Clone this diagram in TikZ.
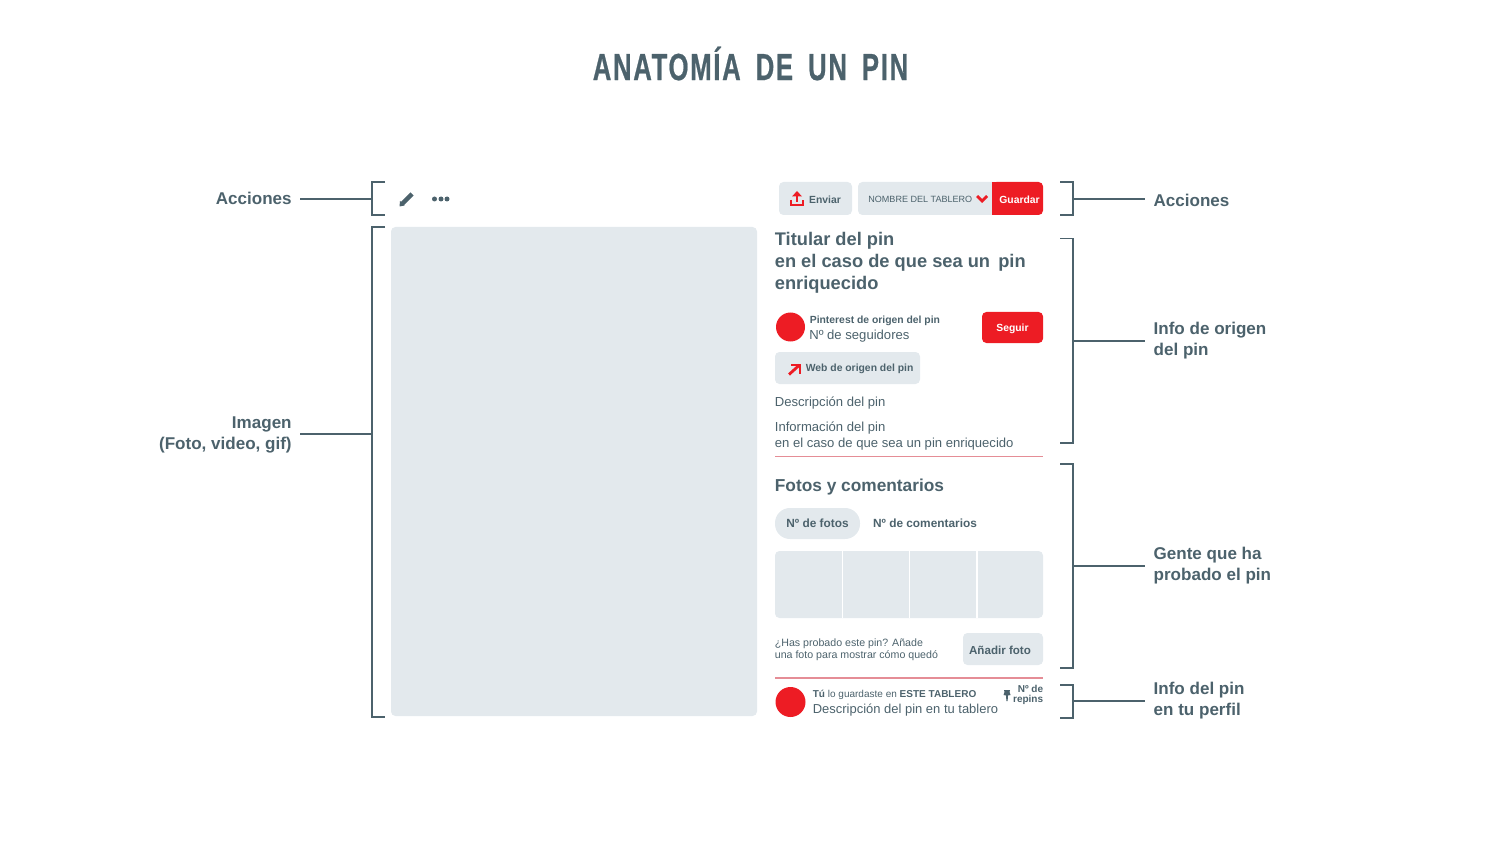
\documentclass[tikz,border=0pt]{standalone}
\usepackage{fontspec}
\setmainfont{Liberation Sans}
\newfontfamily\titlefont[FakeStretch=0.68,FakeBold=0.6,LetterSpace=4.5,WordSpace=1.7]{Liberation Sans Bold}
\definecolor{slate}{HTML}{4C626C}
\definecolor{pale}{HTML}{E3E9ED}
\definecolor{pinred}{HTML}{ED1C24}
\definecolor{rulered}{HTML}{E58D96}
\begin{document}
\begin{tikzpicture}[x=0.02cm,y=-0.02cm]
\tikzset{
    bracket/.style={line width=0.95pt, color=slate},
    leader/.style={line width=0.8pt, color=slate},
    label/.style={font=\fontsize{9.7}{12}\selectfont\bfseries, text=slate, inner xsep=0.16cm, inner ysep=0pt},
    rlabel/.style={label, anchor=west, align=left},
    llabel/.style={label, anchor=east, align=right},
    box/.style={fill=pale, rounded corners=2.5pt},
    redbox/.style={fill=pinred, rounded corners=2.5pt},
    txt/.style={anchor=west, align=left, inner sep=0pt, text=slate},
    head/.style={txt, font=\fontsize{10.4}{12.5}\selectfont\bfseries},
    plain/.style={txt, font=\fontsize{7.45}{8.8}\selectfont},
    tiny/.style={txt, font=\fontsize{5.9}{7}\selectfont\bfseries},
    btn/.style={inner sep=0pt, font=\fontsize{5.9}{7}\selectfont\bfseries}}
\path[use as bounding box] (0,0) rectangle (1500,844);

\node (title) at (750.5,63.5) [inner sep=0pt, text=slate, font=\fontsize{21.5}{24}\titlefont] {ANATOMÍA DE UN PIN};

% left side
\draw[bracket] (385,182)-|(372,215)--(385,215);
\draw[bracket] (385,227)-|(372,717)--(385,717);
\coordinate (brA) at (372,199);
\coordinate (brI) at (372,434);
\node[llabel] (accL) at (300,198.5) {Acciones};
\node[llabel] (imgL) at (300,435) {Imagen\\(Foto, video, gif)};
\draw[leader] (accL.east|-brA)--(brA);
\draw[leader] (imgL.east|-brI)--(brI);

\fill[box] (391,227) rectangle (757,716);

% pencil and dots
\draw[slate, line width=2.6pt] (402,204)--(412,194);
\fill[slate] (399.5,206.5)--(400,201)--(404.5,205.5)--cycle;
\foreach \x in {434.5,441,447}
    \fill[slate] (\x,199) circle (2.5);

% top buttons
\fill[box] (779,182) rectangle (852,215);
\fill[box] (858,182) rectangle (1000,215);
\fill[redbox] (992,182) rectangle (1043,215);
\fill[pinred] (992,182) rectangle (1000,215);
\draw[pinred, line width=1.5pt] (791,200)--(791,205)--(803,205)--(803,200);
\draw[pinred, line width=1.5pt] (797,202)--(797,194);
\fill[pinred] (792,196.5)--(797,191)--(802,196.5)--cycle;
\node[btn, text=slate] (enviar) at (825,199.5) {Enviar};
\node[txt, font=\fontsize{5.15}{7}\selectfont] (tablero) at (868,199) {NOMBRE DEL TABLERO};
\draw[pinred, line width=1.6pt] (977,196)--(982,201)--(987,196);
\node[btn, text=white] (guardar) at (1019.5,199.5) {Guardar};

% pin head
\node[head] (titular) at (774.5,263) {Titular del pin\\en el caso de que sea un\, pin\\enriquecido};

\fill[pinred] (790.5,327) circle (14.5);
\node[tiny] (origen) at (809.5,320.5) {Pinterest de origen del pin};
\node[plain] (seguidores) at (809,336) {Nº de seguidores};
\fill[redbox] (982,312) rectangle (1043,343);
\node[btn, text=white] (seguir) at (1012.5,328.5) {Seguir};

\fill[box] (775,352) rectangle (920,384);
\draw[pinred, line width=1.6pt] (789,374.5)--(799.5,365);
\draw[pinred, line width=1.6pt] (791,365)--(800,365)--(800,374);
\node[tiny] (web) at (805.5,369) {Web de origen del pin};

\node[plain] (descripcion) at (774.5,403) {Descripción del pin};
\node[plain] (informacion) at (774.5,436) {Información del pin\\en el caso de que sea un pin enriquecido};
\draw[rulered, line width=0.6pt] (775,456.5)--(1043,456.5);

% photos and comments
\node[head, font=\fontsize{9.85}{12.5}\selectfont\bfseries] (fotos) at (774.5,487.5) {Fotos y comentarios};
\fill[pale, rounded corners=8.5pt] (775,508) rectangle (860,539);
\node[btn] at (817.5,523.5) [text=slate, font=\fontsize{6.75}{7}\selectfont\bfseries] (nfotos) {Nº de fotos};
\node[btn] at (925,523.5) [text=slate, font=\fontsize{6.75}{7}\selectfont\bfseries] (ncoment) {Nº de comentarios};
\fill[box] (775,551) rectangle (1043,618);
\foreach \x in {842.5,909.5,977}
    \draw[white, line width=1pt] (\x,551)--(\x,618);
\node[txt, font=\fontsize{6.05}{7}\selectfont] (probado) at (774.5,650) {¿Has probado este pin? Añade\\una foto para mostrar cómo quedó};
\fill[box] (963,633) rectangle (1043,665);
\node[btn, text=slate, font=\fontsize{6.6}{8}\selectfont\bfseries] (anadir) at (1000,650) {Añadir foto};
\draw[rulered, line width=0.9pt] (775,678)--(1043,678);

% saved
\fill[pinred] (790.5,702) circle (15);
\node[txt, font=\fontsize{5.7}{7}\selectfont] (guardaste) at (812.5,695) {\textbf{Tú} lo guardaste en \textbf{ESTE TABLERO}};
\node[plain, font=\fontsize{7.38}{8.8}\selectfont] (descTablero) at (812.5,710) {Descripción del pin en tu tablero};
\fill[slate] (1004,690)--(1010,690)--(1009.5,692)--(1010.5,695)--(1008,695.5)--(1007.6,701)--(1006.4,701)--(1006,695.5)--(1003.5,695)--(1004.5,692)--cycle;
\node[txt, anchor=east, align=right, font=\fontsize{5.7}{5.5}\selectfont\bfseries] (repins) at (1043.5,695) {Nº de\\repins};

% right side
\draw[bracket] (1060,182)-|(1073,215)--(1060,215);
\draw[bracket] (1060,238.5)-|(1073,443)--(1060,443);
\draw[bracket] (1060,464)-|(1073,668)--(1060,668);
\draw[bracket] (1060,685)-|(1073,718)--(1060,718);
\coordinate (brB) at (1073,199);
\coordinate (brC) at (1073,341);
\coordinate (brD) at (1073,566);
\coordinate (brE) at (1073,701);
\node[rlabel] (accR) at (1145.3,200) {Acciones};
\node[rlabel] (infoR) at (1145.3,340.5) {Info de origen\\del pin};
\node[rlabel] (genteR) at (1145.3,565.5) {Gente que ha\\probado el pin};
\node[rlabel] (perfilR) at (1145.3,700.5) {Info del pin\\en tu perfil};
\draw[leader] (brB)--(accR.west|-brB);
\draw[leader] (brC)--(infoR.west|-brC);
\draw[leader] (brD)--(genteR.west|-brD);
\draw[leader] (brE)--(perfilR.west|-brE);
\end{tikzpicture}
\end{document}
